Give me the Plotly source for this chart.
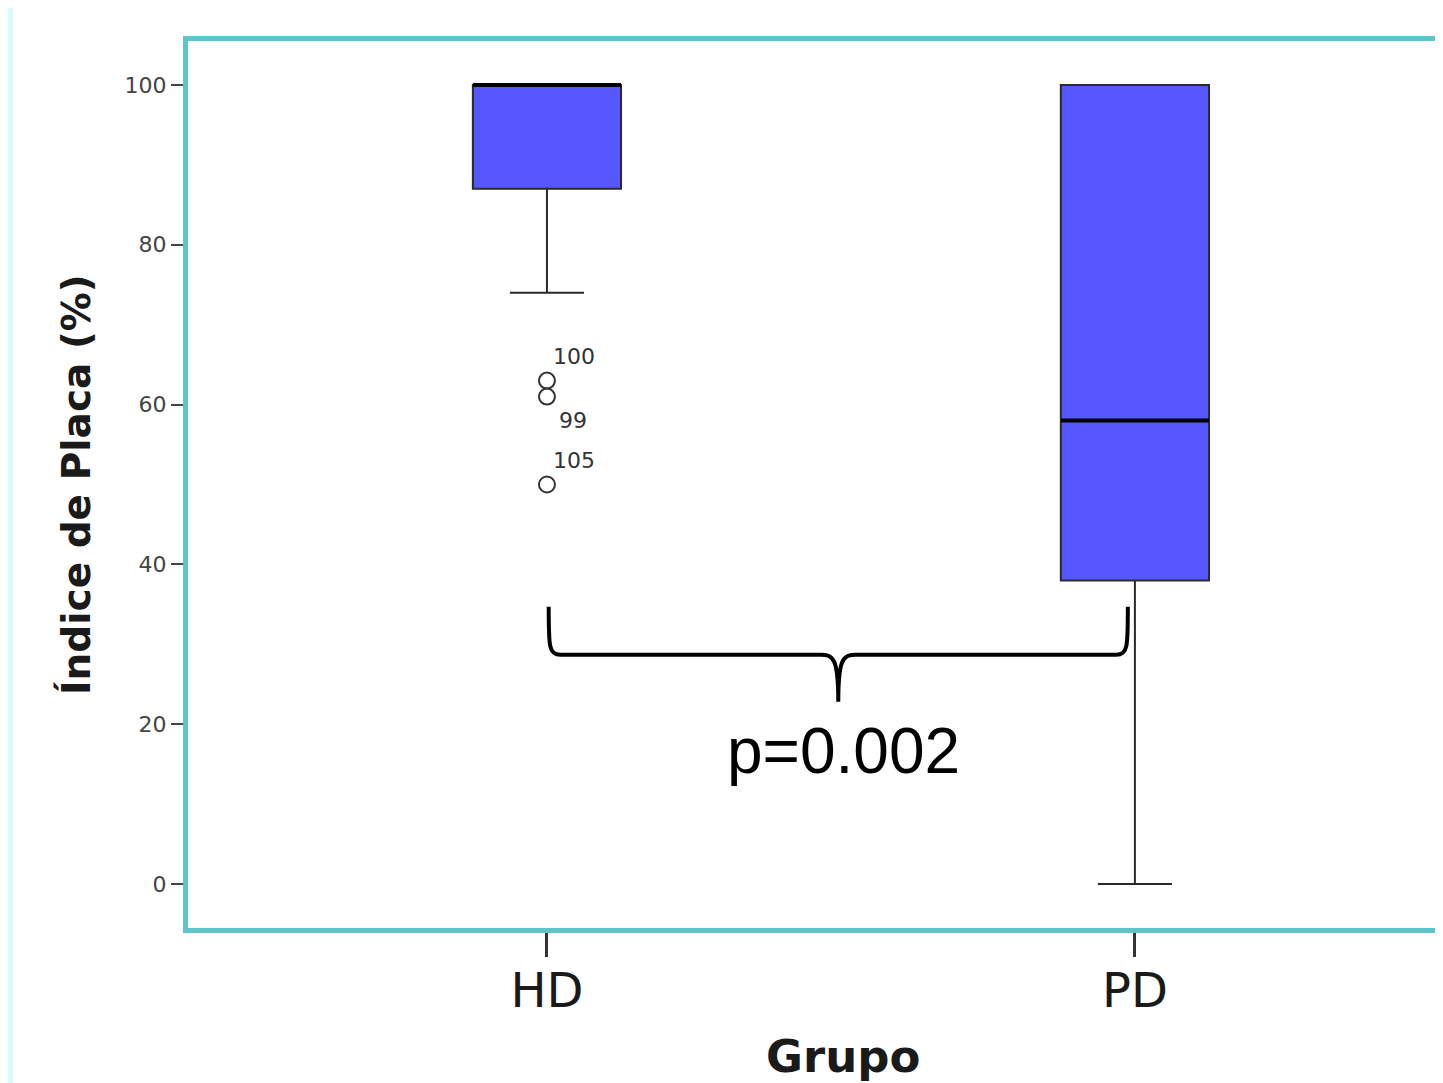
import plotly.graph_objects as go

# ---- data ----
groups = ["HD", "PD"]
group_pos = [0, 1]
q1 = [87, 38]
median = [100, 58]
q3 = [100, 100]
lower_whisker = [74, 0]
upper_whisker = [100, 100]

outlier_x = [0, 0, 0]
outlier_y = [63, 61, 50]
outlier_labels = ["100", "99", "105"]
outlier_label_yshift = [24, -24, 24]
outlier_label_xshift = [4, 10, 4]

y_ticks = [0, 20, 40, 60, 80, 100]
p_text = "p=0.002"

BOX_W = 0.252
TEAL = "#5ec4c9"
BLUE = "#5757ff"

# page has an 8px body margin; figure is offset accordingly
FW, FH = 1435, 1075
ML, MT, MB = 180, 33, 155
PW, PH = FW - ML, FH - MT - MB  # 1255 x 887


def px(page_x):
    return (page_x - 8 - ML) / PW


def py(page_y):
    return (FH - MB - (page_y - 8)) / PH


fig = go.Figure()

fig.add_trace(go.Box(
    x=group_pos, q1=q1, median=median, q3=q3,
    lowerfence=lower_whisker, upperfence=upper_whisker,
    width=BOX_W, whiskerwidth=0.5, boxpoints=False,
    fillcolor=BLUE, line=dict(color="#2a2a2a", width=2),
    showlegend=False, hoverinfo="skip",
))

# thick median lines
for xp, m in zip(group_pos, median):
    fig.add_trace(go.Scatter(
        x=[xp - BOX_W / 2, xp + BOX_W / 2], y=[m, m], mode="lines",
        line=dict(color="black", width=4), showlegend=False, hoverinfo="skip",
    ))

# outliers
fig.add_trace(go.Scatter(
    x=outlier_x, y=outlier_y, mode="markers",
    marker=dict(symbol="circle-open", size=16, color="#333333",
                line=dict(width=2, color="#333333")),
    showlegend=False, hoverinfo="skip",
))
for xo, yo, lab, ys, xs in zip(outlier_x, outlier_y, outlier_labels,
                               outlier_label_yshift, outlier_label_xshift):
    fig.add_annotation(x=xo, y=yo, text=lab, showarrow=False, xanchor="left",
                       xshift=xs, yshift=ys,
                       font=dict(family="DejaVu Sans", size=22, color="#333333"))

# brace between the groups
xl, xr = group_pos[0] + 0.003, group_pos[1] - 0.012
xc = (xl + xr) / 2
yt, yh, yb = 34.7, 28.7, 22.8
path = (f"M {xl},{yt} C {xl},{yh+1} {xl},{yh} {xl+0.02},{yh} "
        f"L {xc-0.03},{yh} C {xc-0.008},{yh} {xc},{yh-0.5} {xc},{yb} "
        f"C {xc},{yh-0.5} {xc+0.008},{yh} {xc+0.03},{yh} "
        f"L {xr-0.02},{yh} C {xr},{yh} {xr},{yh+1} {xr},{yt}")
fig.add_shape(type="path", path=path, xref="x", yref="y",
              line=dict(color="black", width=4))
fig.add_annotation(x=xc, y=16.0, text=p_text, showarrow=False, yanchor="middle",
                   xshift=5, yshift=5,
                   font=dict(family="Liberation Sans", size=64, color="black"))

# left light-cyan strip
fig.add_shape(type="rect", xref="paper", yref="paper",
              x0=px(0), x1=px(13), y0=py(1083), y1=py(0),
              fillcolor="#d8fbfb", line=dict(width=0), layer="below")

fig.add_annotation(xref="paper", yref="paper", x=px(76), y=py(485),
                   xanchor="center", yanchor="middle",
                   text="<b>Índice de Placa (%)</b>", textangle=-90, showarrow=False,
                   font=dict(family="DejaVu Sans", size=39, color="#1a1a1a"))
fig.add_annotation(xref="paper", yref="paper", x=px(843), y=py(1056),
                   xanchor="center", yanchor="middle",
                   text="<b>Grupo</b>", showarrow=False,
                   font=dict(family="DejaVu Sans", size=45, color="#1a1a1a"))

fig.update_layout(
    width=FW, height=FH,
    margin=dict(l=ML, r=0, t=MT, b=MB),
    paper_bgcolor="white", plot_bgcolor="white",
    xaxis=dict(range=[-0.6105, 1.524], tickvals=group_pos, ticktext=groups,
               showgrid=False, zeroline=False, showline=True, mirror=True,
               linecolor=TEAL, linewidth=5, ticks="outside", ticklen=24,
               tickwidth=3, tickcolor="#333333", ticklabelstandoff=-8,
               tickfont=dict(family="DejaVu Sans", size=48, color="#1a1a1a")),
    yaxis=dict(range=[-5.5, 105.5], tickvals=y_ticks,
               showgrid=False, zeroline=False, showline=True,
               linecolor=TEAL, linewidth=5, ticks="outside", ticklen=12,
               tickwidth=2, tickcolor="#444444",
               tickfont=dict(family="DejaVu Sans", size=22, color="#444444")),
)

fig.write_html("out.html")
